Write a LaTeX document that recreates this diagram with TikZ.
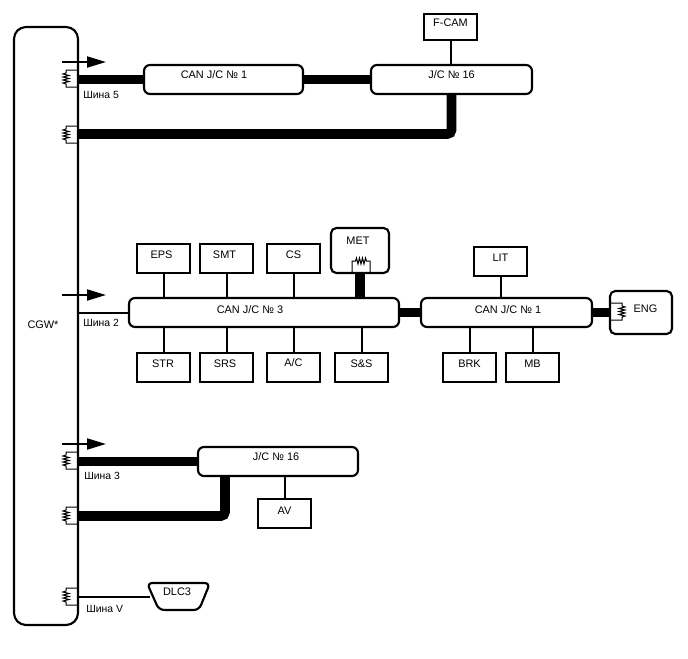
\documentclass[tikz,border=0pt]{standalone}
\usepackage{fontspec}
\setmainfont{Liberation Sans}
\usetikzlibrary{arrows.meta}
\newdimen\pxu \pxu=0.75pt
\newcommand{\tl}[3]{\raisebox{-#2\pxu}[0pt][0pt]{\makebox[0pt][c]{\hspace*{#1\pxu}\hspace*{#1\pxu}#3}}}
\tikzset{
  x=0.75pt,y=-0.75pt,
  every node/.style={font=\fontsize{8.2}{10}\selectfont,text=black},
  blk/.style={draw=black,line width=1.6pt,rounded corners=0pt,minimum width=53*0.75pt,minimum height=29*0.75pt,inner sep=0pt,outer sep=0pt,fill=white},
  jc/.style={blk,rounded corners=4.5pt,minimum width=#1*0.75pt},
  ecu/.style 2 args={blk,rounded corners=4pt,minimum width=#1*0.75pt,minimum height=#2*0.75pt},
  thin bus/.style={line width=1.5pt},
  thick bus/.style={line width=7.2pt,rounded corners=3pt},
  stub/.style={line width=1.5pt},
  busarrow/.style={line width=1.5pt,-{Triangle[length=19*0.75pt,width=11*0.75pt]}},
  lab/.style={anchor=base west,inner sep=0pt,font=\fontsize{7.8}{10}\selectfont},
  res/.pic={\draw[line width=0.75pt,line join=miter]
     (12,-8.5)--(0,-8.5)--(0,-5.5)--(-3,-4.5)--(3,-3)--(-3,-1.5)--(3,0)--(-3,1.5)--(3,3)--(-3,4.5)--(0,5.5)--(0,8.5)--(12,8.5);},
  resup/.pic={\draw[line width=0.75pt,line join=miter]
     (-9,11)--(-9,0)--(-5.5,0)--(-4.5,-3)--(-3,3)--(-1.5,-3)--(0,3)--(1.5,-3)--(3,3)--(4.5,-3)--(5.5,0)--(9,0)--(9,11);},
  resin/.pic={\draw[line width=0.75pt,line join=miter]
     (-12,-8.5)--(0,-8.5)--(0,-5.5)--(3,-4.5)--(-3,-3)--(3,-1.5)--(-3,0)--(3,1.5)--(-3,3)--(3,4.5)--(0,5.5)--(0,8.5)--(-12,8.5);},
}
\begin{document}
\begin{tikzpicture}
\useasboundingbox (0,0) rectangle (688,658);
% CGW
\node[ecu={64}{598},rounded corners=9pt] (cgw) at (46,326) {};
\node (cgwt) at (43,325) {CGW*};
% top group
\node[jc=159] (cana) at (223.5,79.5) {\tl{-9.5}{-1}{CAN J/C № 1}};
\node[jc=161] (jca) at (451.5,79.5) {\tl{0}{-1.5}{J/C № 16}};
\node[blk,minimum height=26*0.75pt] (fcam) at (450.5,27) {\tl{0}{-1}{F-CAM}};
% middle group
\node[jc=270] (canc) at (264,312.5) {\tl{-14}{0.5}{CAN J/C № 3}};
\node[jc=171] (canb) at (506.5,312.5) {\tl{1.5}{0.5}{CAN J/C № 1}};
\node[blk] (eps) at (163.5,258.5) {\tl{-2}{-0.5}{EPS}};
\node[blk] (smt) at (226.5,258.5) {\tl{-2}{-0.5}{SMT}};
\node[blk] (cs) at (293.5,258.5) {\tl{0}{-0.5}{CS}};
\node[ecu={58}{45}] (met) at (360,250.5) {};
\node (mett) at (358,241) {MET};
\node[blk] (lit) at (500.5,261.5) {\tl{0}{0}{LIT}};
\node[blk] (str) at (163.5,367.5) {\tl{-0.5}{0}{STR}};
\node[blk] (srs) at (226.5,367.5) {\tl{-1.5}{0}{SRS}};
\node[blk] (ac) at (293.5,367.5) {\tl{0}{-0.7}{A/C}};
\node[blk] (ss) at (361.5,367.5) {\tl{0}{0}{S\&S}};
\node[blk] (brk) at (469.5,367.5) {\tl{0}{0}{BRK}};
\node[blk] (mb) at (532.5,367.5) {\tl{0}{0}{MB}};
\node[ecu={62}{43}] (eng) at (641,312.5) {};
\node (engt) at (645.5,309) {ENG};
% bottom group
\node[jc=160] (jcb) at (278,461.5) {\tl{-2}{-1}{J/C № 16}};
\node[blk] (av) at (284.5,513.5) {\tl{0}{1}{AV}};
% DLC3
\coordinate (dlcw) at (150,597);
\draw[line width=1.6pt,rounded corners=4pt] (147,583)--(210,583)--(199,610)--(159,610)--cycle;
\node (dlc) at (177,592) {DLC3};
% thick connectors
\draw[thick bus] (cgw.east |- cana) -- (cana.west);
\draw[thick bus] (cana.east) -- (jca.west);
\coordinate (aa) at (78,134);
\draw[thick bus] (aa) -- (jca.south |- aa) -- (jca.south);
\draw[stub] (fcam.south) -- (fcam.south |- jca.north);
\draw[thin bus] (cgw.east |- canc) -- (canc.west);
\draw[thick bus] (canc.east) -- (canb.west);
\draw[thick bus] (canb.east) -- (eng.west);
\draw[thick bus] (met.south) -- (met.south |- canc.north);
\foreach \n in {eps,smt,cs}{\draw[stub] (\n.south) -- (\n.south |- canc.north);}
\foreach \n in {str,srs,ac,ss}{\draw[stub] (\n.north) -- (\n.north |- canc.south);}
\draw[stub] (lit.south) -- (lit.south |- canb.north);
\foreach \n in {brk,mb}{\draw[stub] (\n.north) -- (\n.north |- canb.south);}
\draw[thick bus] (cgw.east |- jcb) -- (jcb.west);
\coordinate (bb) at (78,516);
\coordinate (bc) at (225,516);
\draw[thick bus] (bb) -- (bc) -- (bc |- jcb.south);
\draw[stub] (av.north) -- (av.north |- jcb.south);
\draw[thin bus] (cgw.east |- dlcw) -- (dlcw);
% resistors
\foreach \yy in {78.5,134.5,460.5,515.5,596.5}{\pic at (66,\yy) {res};}
\pic at (361,261) {resup};
\pic at (622,311.5) {resin};
% bus arrows
\foreach \yy in {62,295,444}{
  \coordinate (as) at (62,\yy); \coordinate (ae) at (106,\yy);
  \draw[busarrow] (as) -- (ae);}
% labels
\node[lab] (s5) at (83,98) {Шина 5};
\node[lab] (s2) at (83,326) {Шина 2};
\node[lab] (s3) at (84,479) {Шина 3};
\node[lab] (sv) at (86,612) {Шина V};
\end{tikzpicture}
\end{document}
